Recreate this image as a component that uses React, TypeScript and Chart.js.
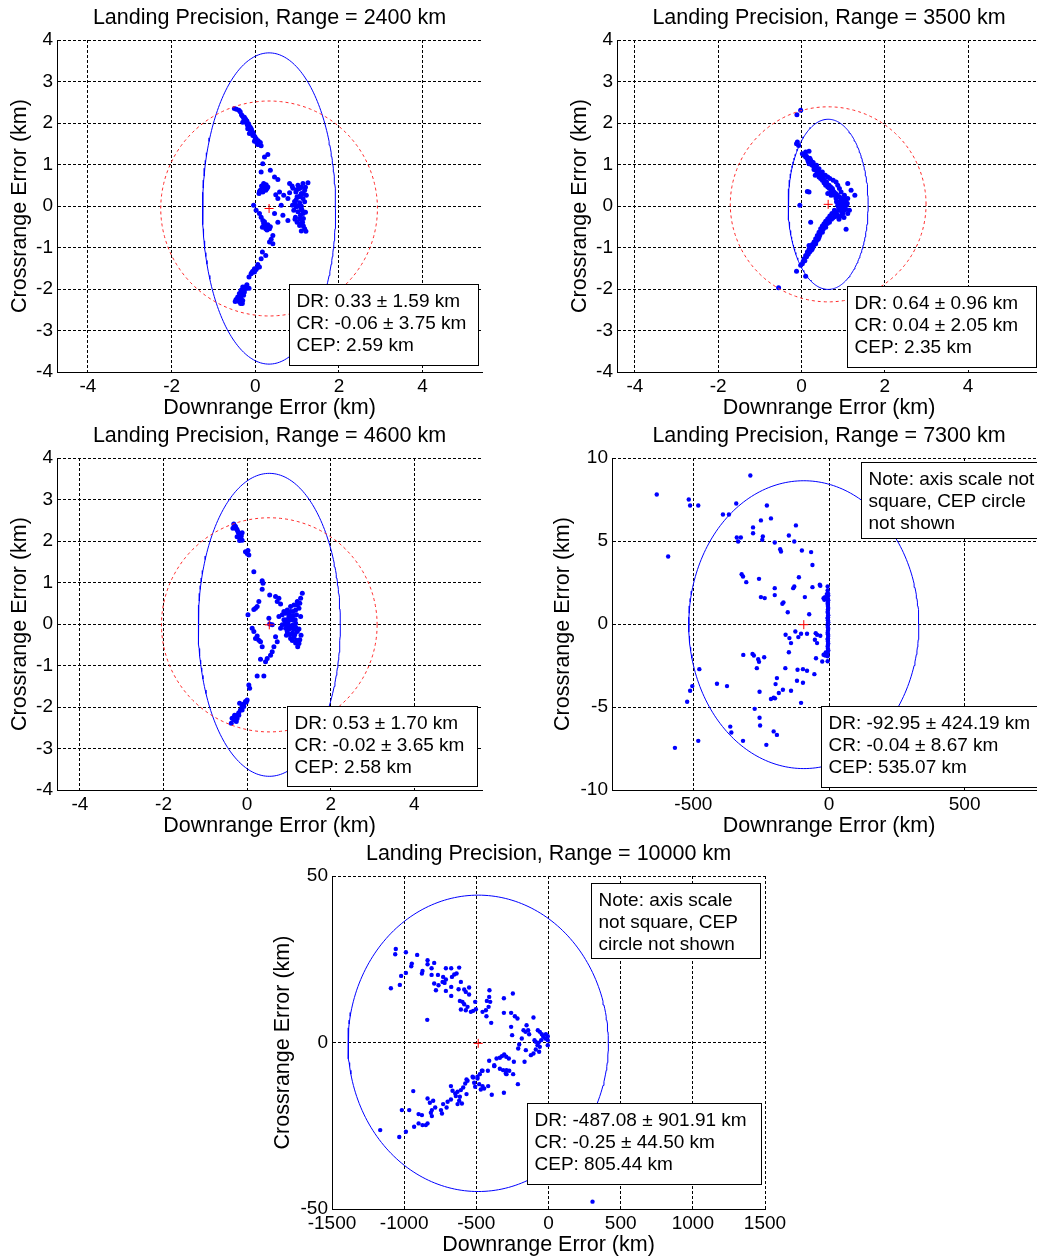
import React, { useEffect, useRef } from "react";
import { Chart, registerables } from "chart.js";

Chart.register(...registerables);

const FONT = '"Liberation Sans", Arial, Helvetica, sans-serif';

// Summary statistics of the simulated impacts for each flight range
const rangesKm = [2400, 3500, 4600, 7300, 10000];
const drMean = [0.33, 0.64, 0.53, -92.95, -487.08];
const drStd = [1.59, 0.96, 1.7, 424.19, 901.91];
const crMean = [-0.06, 0.04, -0.02, -0.04, -0.25];
const crStd = [3.75, 2.05, 3.65, 8.67, 44.5];
const cepKm = [2.59, 2.35, 2.58, 535.07, 805.44];

// Tick values
const kmTicksX = [-4, -2, 0, 2, 4];
const kmTicksY = [-4, -3, -2, -1, 0, 1, 2, 3, 4];
const ticksX7300 = [-500, 0, 500];
const ticksY7300 = [-10, -5, 0, 5, 10];
const ticksX10000 = [-1500, -1000, -500, 0, 500, 1000, 1500];
const ticksY10000 = [-50, 0, 50];

// Impact points [downrange, crossrange] in km
const impacts2400: [number, number][] = [
  [-0.5, 2.35], [-0.39, 2.31], [-0.36, 2.27], [-0.31, 2.17], [-0.28, 2.12], [-0.23, 2.09], [-0.3, 2.02],
  [-0.2, 1.99], [-0.15, 1.94], [-0.12, 1.9], [-0.18, 1.86], [-0.09, 1.83], [-0.06, 1.78], [-0.14, 1.75],
  [-0.06, 1.7], [-0.01, 1.67], [0.02, 1.62], [0.07, 1.57], [0.12, 1.53], [0.14, 1.45], [0.06, 1.48],
  [-0.02, 1.56], [-0.25, 2.06], [-0.17, 1.91], [-0.22, 2.03], [-0.19, 1.96], [-0.11, 1.8], [-0.04, 1.72],
  [-0.45, 2.33], [-0.33, 2.2], [-0.26, 2.14], [-0.2, 2.05], [-0.16, 1.98], [-0.1, 1.86], [-0.08, 1.76],
  [0.0, 1.6], [0.04, 1.52], [0.1, 1.48],
  [0.3, 1.24], [0.22, 1.18], [0.18, 1.02], [0.14, 0.82], [0.36, 0.86], [0.46, 0.7], [0.54, 0.64],
  [0.2, 0.54], [0.26, 0.51], [0.17, 0.46], [0.22, 0.42], [0.3, 0.46], [0.12, 0.38], [0.09, 0.3],
  [0.18, 0.34], [0.2, 0.45], [0.24, 0.48], [0.15, 0.48], [0.25, 0.38], [0.28, 0.42], [0.1, 0.35],
  [0.49, 0.27], [0.58, 0.34], [0.68, 0.26], [0.54, 0.18], [0.62, 0.02], [0.46, -0.18], [0.54, -0.39],
  [0.66, -0.22], [0.78, -0.35],
  [-0.04, 0.02], [0.02, -0.1], [0.1, -0.18], [0.14, -0.27], [0.18, -0.35], [0.22, -0.43], [0.28, -0.51],
  [0.34, -0.55], [0.25, -0.55], [0.17, -0.51], [0.3, -0.45], [0.2, -0.42], [0.26, -0.48], [0.3, -0.55],
  [0.22, -0.38], [0.24, -0.5], [0.32, -0.5], [0.28, -0.58], [0.36, -0.5],
  [0.42, -0.71], [0.38, -0.8], [0.34, -0.87], [0.42, -0.91],
  [1.26, 0.56], [1.14, 0.54], [1.02, 0.5], [1.06, 0.42], [1.18, 0.38], [0.97, 0.34], [0.82, 0.54],
  [0.9, 0.43], [1.1, 0.3], [1.22, 0.26], [1.0, 0.22], [1.14, 0.18], [0.94, 0.11], [1.06, 0.08],
  [0.98, -0.02], [1.1, -0.06], [1.02, -0.14], [1.14, -0.18], [0.96, -0.27], [1.06, -0.31], [1.13, -0.39],
  [1.06, -0.47], [1.18, -0.55], [1.21, -0.61], [1.0, -0.39], [0.82, 0.32], [0.78, 0.18], [0.89, 0.02],
  [0.92, -0.1], [1.05, 0.22], [1.0, 0.4], [1.1, 0.0], [0.95, 0.05], [1.08, -0.22], [1.15, -0.3], [1.1, 0.45],
  [1.2, 0.45], [1.15, 0.3], [1.08, 0.25], [0.98, 0.15], [1.03, 0.0], [1.12, -0.1], [1.08, -0.42],
  [1.15, -0.48], [1.1, -0.6], [0.95, -0.32], [1.2, -0.15], [0.88, 0.48], [1.18, 0.1],
  [0.17, -1.11], [0.25, -1.19], [0.14, -1.27], [0.06, -1.41], [0.1, -1.47], [-0.02, -1.51], [-0.06, -1.57],
  [-0.1, -1.63], [-0.15, -1.71], [-0.02, -1.59], [0.02, -1.53], [0.05, -1.48], [-0.08, -1.6],
  [-0.3, -1.95], [-0.22, -1.99], [-0.34, -2.03], [-0.26, -2.07], [-0.38, -2.11], [-0.42, -2.19],
  [-0.34, -2.23], [-0.46, -2.25], [-0.38, -2.31], [-0.31, -2.35], [-0.15, -1.98], [-0.28, -2.15],
  [-0.36, -2.17], [-0.25, -1.95], [-0.4, -2.27], [-0.48, -2.3], [-0.32, -2.1], [-0.28, -2.0],
  [-0.4, -2.2], [-0.44, -2.28], [-0.3, -2.28], [-0.35, -2.35], [-0.2, -1.9],
];

const impacts3500: [number, number][] = [
  [-0.02, 2.31], [-0.11, 2.2], [-0.12, 1.5], [-0.07, 1.46], [-0.1, 1.54], [0.02, 1.26], [0.06, 1.22],
  [0.1, 1.18], [0.18, 1.32], [0.14, 1.14], [0.22, 1.1], [0.18, 1.02], [0.26, 0.98], [0.3, 0.94],
  [0.25, 1.06], [0.34, 0.86], [0.38, 0.82], [0.33, 0.74], [0.42, 0.7], [0.46, 0.66], [0.5, 0.62],
  [0.54, 0.56], [0.58, 0.5], [0.63, 0.46], [0.67, 0.42], [0.71, 0.34], [0.75, 0.38], [0.79, 0.26],
  [0.71, 0.26], [0.63, 0.3], [0.83, 0.18], [0.91, 0.1], [0.87, 0.02], [0.95, -0.02], [0.99, -0.06],
  [1.03, 0.02], [1.07, 0.1], [1.11, 0.18], [1.03, 0.26], [0.95, 0.34], [0.91, 0.42], [0.87, 0.5],
  [0.83, 0.58], [0.76, 0.62], [0.68, 0.66], [0.63, 0.7], [0.57, 0.74], [0.5, 0.82], [0.42, 0.9],
  [0.36, 0.98], [1.11, 0.54], [1.28, 0.26], [1.19, 0.38], [1.15, -0.1], [1.11, -0.18], [1.07, -0.56],
  [0.18, 0.34], [0.14, 0.35], [-0.04, 0.02], [0.22, -0.39],
  [0.1, 1.3], [0.12, 1.2], [0.2, 1.15], [0.16, 1.08], [0.24, 1.0], [0.28, 1.05], [0.3, 0.88],
  [0.36, 0.9], [0.4, 0.78], [0.44, 0.8], [0.48, 0.72], [0.52, 0.68], [0.55, 0.62], [0.6, 0.58],
  [0.62, 0.52], [0.66, 0.5], [0.7, 0.46], [0.74, 0.42], [0.78, 0.34], [0.82, 0.3], [0.86, 0.26],
  [0.9, 0.22], [0.94, 0.2], [0.98, 0.12], [1.02, 0.14], [1.06, 0.06], [0.93, 0.06], [0.89, -0.04],
  [1.0, -0.02], [1.06, -0.08], [1.1, 0.06],
  [0.79, -0.1], [0.73, -0.18], [0.68, -0.24], [0.63, -0.31], [0.58, -0.37], [0.54, -0.43], [0.5, -0.48],
  [0.46, -0.55], [0.42, -0.63], [0.38, -0.71], [0.34, -0.79], [0.3, -0.87], [0.26, -0.93], [0.22, -0.99],
  [0.18, -1.04], [0.14, -1.11], [0.1, -1.19], [0.06, -1.27], [0.02, -1.39], [-0.02, -1.43], [-0.12, -1.57],
  [0.1, -1.69], [-0.55, -1.97], [0.5, -0.63], [0.42, -0.75], [0.34, -0.91], [0.58, -0.51], [0.67, -0.39],
  [0.75, -0.29], [0.83, -0.14], [0.91, -0.1], [0.99, -0.18], [0.87, -0.24], [0.26, -1.03], [0.18, -0.95],
  [0.85, -0.2], [0.8, -0.26], [0.78, -0.18], [0.72, -0.32], [0.66, -0.3], [0.62, -0.42], [0.56, -0.46],
  [0.52, -0.56], [0.46, -0.62], [0.44, -0.7], [0.4, -0.8], [0.36, -0.84], [0.32, -0.92], [0.28, -0.98],
  [0.24, -1.06], [0.2, -1.1], [0.16, -1.16], [0.12, -1.22], [0.08, -1.32], [0.04, -1.34], [0.95, -0.24],
  [1.02, -0.28], [0.9, -0.32],
  [0.91, -0.02], [0.99, 0.06], [0.95, 0.14], [1.03, -0.1], [1.05, 0.18], [1.08, 0.02], [0.97, -0.16],
  [0.84, 0.1],
];

const impacts4600: [number, number][] = [
  [-0.32, 2.41], [-0.28, 2.35], [-0.34, 2.31], [-0.24, 2.27], [-0.3, 2.36], [-0.2, 2.18], [-0.12, 2.2],
  [-0.24, 2.1], [-0.16, 2.06], [-0.12, 2.02], [-0.18, 2.01], [-0.26, 2.3], [-0.22, 2.22], [-0.14, 2.12],
  [-0.04, 1.74], [0.0, 1.7], [0.04, 1.66], [0.02, 1.77], [0.16, 1.26], [0.36, 1.04], [0.38, 0.98],
  [0.36, 0.84], [0.54, 0.7], [0.68, 0.66], [0.76, 0.62], [0.72, 0.54], [0.8, 0.48],
  [0.28, 0.54], [0.24, 0.42], [0.16, 0.35], [0.2, 0.38], [0.02, 0.22], [0.52, 0.14], [0.6, -0.02],
  [0.54, 0.0], [0.12, -0.1], [0.16, -0.18], [0.24, -0.29], [0.2, -0.35], [0.28, -0.39], [0.32, -0.43],
  [0.36, -0.55], [0.68, -0.31], [0.72, -0.43], [0.64, -0.55], [0.6, -0.67], [0.56, -0.75], [0.48, -0.83],
  [0.44, -0.91], [0.32, -0.85], [0.24, -1.25], [0.4, -1.25], [0.04, -1.47], [0.06, -1.55],
  [0.0, -1.83], [-0.04, -1.87], [-0.08, -1.93], [-0.12, -1.99], [-0.16, -2.07], [-0.2, -2.14],
  [-0.24, -2.19], [-0.28, -2.25], [-0.32, -2.31], [-0.36, -2.27], [-0.26, -2.35], [-0.38, -2.39],
  [-0.12, -2.07], [-0.18, -1.91], [-0.08, -1.99], [-0.2, -2.2], [-0.3, -2.2], [-0.24, -2.28],
  [-0.1, -1.95], [-0.02, -1.88],
  [1.32, 0.74], [1.28, 0.62], [1.2, 0.54], [1.12, 0.46], [1.04, 0.42], [0.96, 0.34], [0.92, 0.26],
  [1.04, 0.3], [1.16, 0.34], [1.24, 0.38], [1.28, 0.18], [1.0, 0.18], [1.08, 0.1], [1.16, 0.02],
  [0.98, 0.02], [0.88, 0.1], [0.84, -0.02], [1.04, -0.06], [1.12, -0.13], [1.2, -0.18], [1.29, -0.27],
  [1.08, -0.22], [0.96, -0.18], [0.92, -0.1], [1.12, -0.31], [1.18, -0.39], [1.24, -0.47], [1.21, -0.55],
  [1.04, -0.35], [0.94, -0.27], [0.8, -0.1], [0.76, 0.18], [0.84, 0.22], [1.0, 0.25], [1.1, 0.2],
  [1.06, -0.1], [0.98, -0.05], [1.15, 0.1], [1.02, 0.1], [1.14, -0.25], [0.9, 0.0],
  [1.1, 0.3], [1.18, 0.22], [1.06, 0.18], [0.94, 0.1], [1.1, -0.02], [1.0, -0.12], [1.16, -0.08],
  [1.24, -0.12], [1.08, -0.4], [1.16, -0.46], [1.26, -0.38], [1.2, 0.46], [1.26, 0.5], [0.88, 0.3],
  [1.02, -0.25],
];

const impacts7300: [number, number][] = [
  [-635, 7.8], [-290, 8.95], [-517, 7.5], [-512, 7.14], [-482, 7.14], [-593, 4.07], [-342, 7.26],
  [-391, 6.6], [-369, 6.6], [-229, 7.14], [-251, 6.24], [-214, 6.36], [-280, 5.82], [-280, 5.47],
  [-122, 5.94], [-148, 5.33], [-128, 4.97], [-340, 5.21], [-325, 5.21], [-335, 4.97], [-244, 5.27],
  [-246, 5.07], [-200, 4.91], [-180, 4.51], [-177, 4.37], [-100, 4.43], [-66, 4.33], [-61, 3.55],
  [-322, 3.0], [-317, 2.86], [-305, 2.52], [-258, 2.72], [-200, 2.16], [-200, 1.74], [-128, 2.26],
  [-132, 2.16], [-111, 2.82], [-89, 1.62], [-61, 2.22], [-34, 2.36], [-32, 2.3], [-251, 1.62],
  [-237, 1.56], [-168, 1.3], [-172, 1.22], [-152, 0.71], [-73, 0.59], [-160, -0.65], [-146, -0.85],
  [-140, -1.15], [-124, -0.45], [-113, -0.79], [-103, -0.59], [-81, -0.59], [-49, -0.55], [-52, -0.95],
  [-44, -1.15], [-148, -1.7], [-316, -1.86], [-282, -1.8], [-277, -1.9], [-261, -2.12], [-258, -2.28],
  [-239, -2.0], [-266, -2.66], [-161, -2.66], [-48, -2.06], [-25, -2.26], [-116, -2.76], [-96, -2.72],
  [-81, -2.82], [-54, -3.02], [-118, -3.42], [-96, -3.54], [-192, -3.26], [-197, -3.62], [-170, -3.96],
  [-140, -4.02], [-185, -4.16], [-256, -4.08], [-214, -4.52], [-204, -4.44], [-199, -4.48], [-103, -4.75],
  [-274, -5.11], [-256, -5.65], [-254, -6.11], [-204, -6.47], [-192, -6.68], [-231, -7.28], [-317, -7.04],
  [-364, -6.18], [-360, -6.54], [-413, -3.6], [-376, -3.74], [-478, -2.72], [-504, -3.74], [-512, -4.02],
  [-523, -4.68], [-482, -7.04], [-568, -7.46], [-14, -1.9], [-5, -2.24], [-5, 2.26], [-5, 2.02],
  [-32, -0.71], [-44, -0.65], [-17, 1.46], [-12, -1.76], [-15, 1.62], [-20, 1.55], [-8, 1.8],
  [-12, -1.72], [-20, -1.85], [-5, -1.95],
  [-4, 1.85], [-3, 1.72], [-5, 1.64], [-4, 1.51], [-3, 1.43], [-4, 1.3], [-5, 1.22], [-4, 1.08],
  [-3, 0.97], [-4, 0.88], [-5, 0.74], [-4, 0.66], [-3, 0.53], [-4, 0.41], [-5, 0.35], [-4, 0.22],
  [-3, 0.1], [-4, 0.02], [-5, -0.09], [-4, -0.21], [-3, -0.28], [-4, -0.4], [-5, -0.52], [-4, -0.61],
  [-3, -0.73], [-4, -0.86], [-5, -0.94], [-4, -1.05], [-3, -1.18], [-4, -1.27], [-5, -1.36],
  [-4, -1.49], [-3, -1.58], [-4, -1.66], [-5, -1.75],
];

const impacts10000: [number, number][] = [
  [-1058, 28.1], [-1062, 26.5], [-988, 27.1], [-910, 26.3], [-1092, 16.3], [-1030, 17.3], [-1021, 20.0],
  [-988, 20.9], [-951, 22.9], [-947, 23.7], [-838, 24.7], [-838, 23.5], [-792, 23.9], [-873, 21.5],
  [-877, 20.7], [-810, 22.3], [-810, 20.3], [-766, 20.3], [-711, 22.3], [-674, 22.3], [-619, 22.5],
  [-637, 20.7], [-653, 20.4], [-669, 19.7], [-730, 19.7], [-711, 18.9], [-734, 18.2], [-792, 17.7],
  [-762, 17.2], [-720, 17.9], [-674, 16.7], [-780, 15.7], [-711, 15.5], [-674, 14.0], [-607, 18.2],
  [-623, 16.0], [-584, 15.9], [-550, 16.5], [-573, 15.2], [-550, 14.4], [-840, 6.8], [-614, 12.5],
  [-596, 12.2], [-584, 11.5], [-607, 9.9], [-573, 9.7], [-561, 10.7], [-538, 9.2], [-522, 9.5],
  [-508, 12.2], [-503, 10.0], [-457, 9.2], [-434, 9.7], [-430, 7.9], [-427, 12.5], [-415, 10.7],
  [-404, 12.2], [-409, 15.7], [-411, 13.7], [-397, 5.9], [-309, 13.3], [-247, 14.7], [-309, 8.9],
  [-259, 8.9], [-233, 7.9], [-215, 7.2], [-259, 4.7], [-252, 2.2], [-152, 5.2], [-104, 7.5],
  [-173, 3.7], [-159, 3.2], [-141, 3.7], [-185, 1.2], [-134, 2.5], [-97, 0.7], [-74, 3.7], [-60, 3.2],
  [-46, 2.5], [-37, 1.7], [-18, 2.5], [-5, 1.9], [-5, 0.7], [-5, -0.8], [-23, 1.2], [-51, 0.7],
  [-69, -0.1], [-88, 0.2], [-76, -0.8], [-60, -1.3], [-203, -0.6], [-157, -2.3], [-122, -3.8],
  [-104, -3.3], [-88, -2.1], [-65, -2.8], [-210, -1.8], [-307, -3.6], [-293, -4.3], [-323, -4.1],
  [-360, -4.8], [-337, -4.6], [-275, -4.8], [-411, -5.5], [-240, -5.8], [-166, -5.8], [-376, -7.1],
  [-337, -7.9], [-314, -8.3], [-291, -8.3], [-291, -9.5], [-245, -9.5], [-420, -8.5], [-457, -8.5],
  [-476, -9.5], [-492, -10.3], [-522, -10.5], [-568, -11.1],
  [-376, -6.8], [-296, -9.3], [-272, -8.5], [-212, -12.5], [-309, -15.1], [-393, -15.7], [-418, -13.1],
  [-446, -13.8], [-457, -13.1], [-480, -12.5], [-469, -14.1], [-508, -13.3], [-515, -12.1], [-492, -10.8],
  [-462, -8.5], [-526, -10.3], [-561, -11.5], [-577, -12.3], [-591, -13.5], [-607, -14.3], [-630, -14.8],
  [-646, -15.3], [-665, -14.5], [-676, -13.1], [-642, -16.1], [-614, -16.3], [-568, -15.5], [-600, -18.3],
  [-630, -18.5], [-619, -17.5], [-676, -17.1], [-699, -17.8], [-730, -18.5], [-706, -19.5], [-745, -20.3],
  [-738, -21.3], [-785, -19.5], [-799, -17.5], [-838, -16.8], [-822, -18.1], [-808, -20.3], [-815, -21.1],
  [-808, -22.1], [-838, -24.3], [-873, -24.8], [-850, -24.8], [-900, -21.5], [-877, -21.8], [-900, -24.3],
  [-931, -25.3], [-965, -20.3], [-1016, -20.3], [-988, -26.8], [-1034, -28.4], [-937, -14.6],
  [-1166, -26.3], [305, -47.8],
];

type Box = { x: number; y: number; w: number; h: number; lines: string[] };
type Plot = { l: number; t: number; r: number; b: number };
type PanelCfg = {
  idx: number;
  points: [number, number][];
  plot: Plot;
  yAxisWidth: number;
  yTitlePad: number;
  padRight: number;
  xMin: number;
  xMax: number;
  yMin: number;
  yMax: number;
  xTicks: number[];
  yTicks: number[];
  showCep: boolean;
  dotRadius: number;
  statsBox: { x: number; y: number; w: number; h: number };
  note: { x: number; y: number; w: number; h: number; lines: string[] } | null;
};

const TOP_PAD = 40;
const X_AXIS_HEIGHT = 50;

const panels: PanelCfg[] = [
  {
    idx: 0, points: impacts2400, plot: { l: 57, t: 40, r: 482, b: 372 }, yAxisWidth: 57, yTitlePad: 7,
    padRight: 20, xMin: -4.74, xMax: 5.42, yMin: -4, yMax: 4, xTicks: kmTicksX, yTicks: kmTicksY,
    showCep: true, dotRadius: 2.5, statsBox: { x: 289, y: 284, w: 189, h: 81 }, note: null,
  },
  {
    idx: 1, points: impacts3500, plot: { l: 617, t: 40, r: 1041, b: 372 }, yAxisWidth: 57, yTitlePad: 7,
    padRight: 20, xMin: -4.43, xMax: 5.75, yMin: -4, yMax: 4, xTicks: kmTicksX, yTicks: kmTicksY,
    showCep: true, dotRadius: 2.5, statsBox: { x: 847, y: 286, w: 189, h: 81 }, note: null,
  },
  {
    idx: 2, points: impacts4600, plot: { l: 57, t: 458, r: 482, b: 790 }, yAxisWidth: 57, yTitlePad: 7,
    padRight: 20, xMin: -4.55, xMax: 5.62, yMin: -4, yMax: 4, xTicks: kmTicksX, yTicks: kmTicksY,
    showCep: true, dotRadius: 2.5, statsBox: { x: 287, y: 706, w: 190, h: 80 }, note: null,
  },
  {
    idx: 3, points: impacts7300, plot: { l: 612, t: 458, r: 1046, b: 790 }, yAxisWidth: 66, yTitlePad: 4,
    padRight: 30, xMin: -800, xMax: 800, yMin: -10, yMax: 10, xTicks: ticksX7300, yTicks: ticksY7300,
    showCep: false, dotRadius: 2.2, statsBox: { x: 821, y: 706, w: 222, h: 81 },
    note: { x: 861, y: 462, w: 182, h: 76, lines: ["Note: axis scale not", "square, CEP circle", "not shown"] },
  },
  {
    idx: 4, points: impacts10000, plot: { l: 332, t: 876, r: 765, b: 1209 }, yAxisWidth: 66, yTitlePad: 4,
    padRight: 30, xMin: -1500, xMax: 1500, yMin: -50, yMax: 50, xTicks: ticksX10000, yTicks: ticksY10000,
    showCep: false, dotRadius: 2.2, statsBox: { x: 527, y: 1103, w: 234, h: 81 },
    note: { x: 591, y: 883, w: 169, h: 75, lines: ["Note: axis scale", "not square, CEP", "circle not shown"] },
  },
];

// Closed outline of an axis-aligned ellipse in data coordinates
function outline(cx: number, cy: number, rx: number, ry: number) {
  const pts: { x: number; y: number }[] = [];
  const n = 240;
  for (let k = 0; k <= n; k++) {
    const t = (k / n) * Math.PI * 2;
    pts.push({ x: cx + rx * Math.cos(t), y: cy + ry * Math.sin(t) });
  }
  return pts;
}

function Panel({ cfg }: { cfg: PanelCfg }) {
  const ref = useRef<HTMLCanvasElement>(null);
  const cx = cfg.plot.l - cfg.yAxisWidth;
  const cy = cfg.plot.t - TOP_PAD;
  const w = cfg.plot.r + cfg.padRight - cx;
  const h = cfg.plot.b + X_AXIS_HEIGHT - cy;

  useEffect(() => {
    const canvas = ref.current;
    if (!canvas) return;
    const i = cfg.idx;
    const title = `Landing Precision, Range = ${rangesKm[i]} km`;
    const statsLines = [
      `DR: ${drMean[i].toFixed(2)} \u00b1 ${drStd[i].toFixed(2)} km`,
      `CR: ${crMean[i].toFixed(2)} \u00b1 ${crStd[i].toFixed(2)} km`,
      `CEP: ${cepKm[i].toFixed(2)} km`,
    ];
    const boxes: Box[] = [{ ...cfg.statsBox, lines: statsLines }];
    if (cfg.note) boxes.push(cfg.note);

    const overlay = {
      id: "panelOverlay",
      afterDatasetsDraw(chart: Chart) {
        const { ctx, chartArea: a } = chart;
        ctx.save();
        ctx.fillStyle = "#000";
        ctx.font = `21.5px ${FONT}`;
        ctx.textAlign = "center";
        ctx.textBaseline = "middle";
        ctx.fillText(title, (a.left + a.right) / 2, a.top - 22);
        for (const b of boxes) {
          const x = Math.round(b.x - cx) + 0.5;
          const y = Math.round(b.y - cy) + 0.5;
          ctx.fillStyle = "#fff";
          ctx.fillRect(x, y, b.w, b.h);
          ctx.strokeStyle = "#000";
          ctx.lineWidth = 1;
          ctx.strokeRect(x, y, b.w, b.h);
          ctx.fillStyle = "#000";
          ctx.font = `19px ${FONT}`;
          ctx.textAlign = "left";
          ctx.textBaseline = "middle";
          b.lines.forEach((t, k) => ctx.fillText(t, x + 7, y + 17 + k * 22));
        }
        ctx.restore();
      },
    };

    const datasets: any[] = [
      {
        label: "mean",
        data: [{ x: drMean[i], y: crMean[i] }],
        pointStyle: "cross",
        pointRadius: 4.5,
        borderColor: "#ff0000",
        backgroundColor: "#ff0000",
        borderWidth: 1,
        order: 0,
      },
      {
        label: "1-sigma ellipse",
        data: outline(drMean[i], crMean[i], drStd[i], crStd[i]),
        showLine: true,
        pointRadius: 0,
        borderColor: "#0000ff",
        borderWidth: 1,
        fill: false,
        order: 2,
      },
      {
        label: "impacts",
        data: cfg.points.map(([x, y]) => ({ x, y })),
        pointStyle: "circle",
        pointRadius: cfg.dotRadius,
        backgroundColor: "#0000ff",
        borderWidth: 0,
        order: 3,
      },
    ];
    if (cfg.showCep) {
      datasets.push({
        label: "CEP",
        data: outline(drMean[i], crMean[i], cepKm[i], cepKm[i]),
        showLine: true,
        pointRadius: 0,
        borderColor: "#ff2a2a",
        borderWidth: 1,
        borderDash: [3, 3],
        fill: false,
        order: 1,
      });
    }

    const tickFont = { family: FONT, size: 19 };
    const titleFont = { family: FONT, size: 21.5 };

    const chart = new Chart(canvas, {
      type: "scatter",
      data: { datasets },
      options: {
        responsive: false,
        animation: false,
        events: [],
        layout: { padding: { left: 0, top: TOP_PAD, right: cfg.padRight, bottom: 0 } },
        plugins: {
          legend: { display: false },
          tooltip: { enabled: false },
          title: { display: false },
        },
        scales: {
          x: {
            type: "linear",
            position: "bottom",
            min: cfg.xMin,
            max: cfg.xMax,
            afterBuildTicks: (s: any) => {
              s.ticks = cfg.xTicks.map((v) => ({ value: v }));
            },
            afterFit: (s: any) => {
              s.height = X_AXIS_HEIGHT;
            },
            ticks: {
              color: "#000",
              font: tickFont,
              padding: 3,
              maxRotation: 0,
              autoSkip: false,
              callback: (v: any) => String(v),
            },
            grid: { color: "#000", lineWidth: 1, drawTicks: false },
            border: { display: true, color: "#000", width: 1, dash: [3, 2] },
            title: {
              display: true,
              text: "Downrange Error (km)",
              color: "#000",
              font: titleFont,
              padding: { top: 0, bottom: 1 },
            },
          },
          y: {
            type: "linear",
            position: "left",
            min: cfg.yMin,
            max: cfg.yMax,
            afterBuildTicks: (s: any) => {
              s.ticks = cfg.yTicks.map((v) => ({ value: v }));
            },
            afterFit: (s: any) => {
              s.width = cfg.yAxisWidth;
            },
            ticks: {
              color: "#000",
              font: tickFont,
              padding: 4,
              autoSkip: false,
              callback: (v: any) => String(v),
            },
            grid: { color: "#000", lineWidth: 1, drawTicks: false },
            border: { display: true, color: "#000", width: 1, dash: [3, 2] },
            title: {
              display: true,
              text: "Crossrange Error (km)",
              color: "#000",
              font: titleFont,
              padding: { top: cfg.yTitlePad, bottom: 0 },
            },
          },
        },
      } as any,
      plugins: [overlay as any],
    });
    return () => chart.destroy();
  }, []);

  return (
    <canvas
      ref={ref}
      width={w}
      height={h}
      style={{ position: "absolute", left: cx, top: cy, width: w, height: h }}
    />
  );
}

export default function App() {
  return (
    <div
      style={{
        position: "absolute",
        left: 0,
        top: 0,
        width: 1037,
        height: 1257,
        overflow: "hidden",
        background: "#fff",
      }}
    >
      {panels.map((p) => (
        <Panel key={p.idx} cfg={p} />
      ))}
    </div>
  );
}
